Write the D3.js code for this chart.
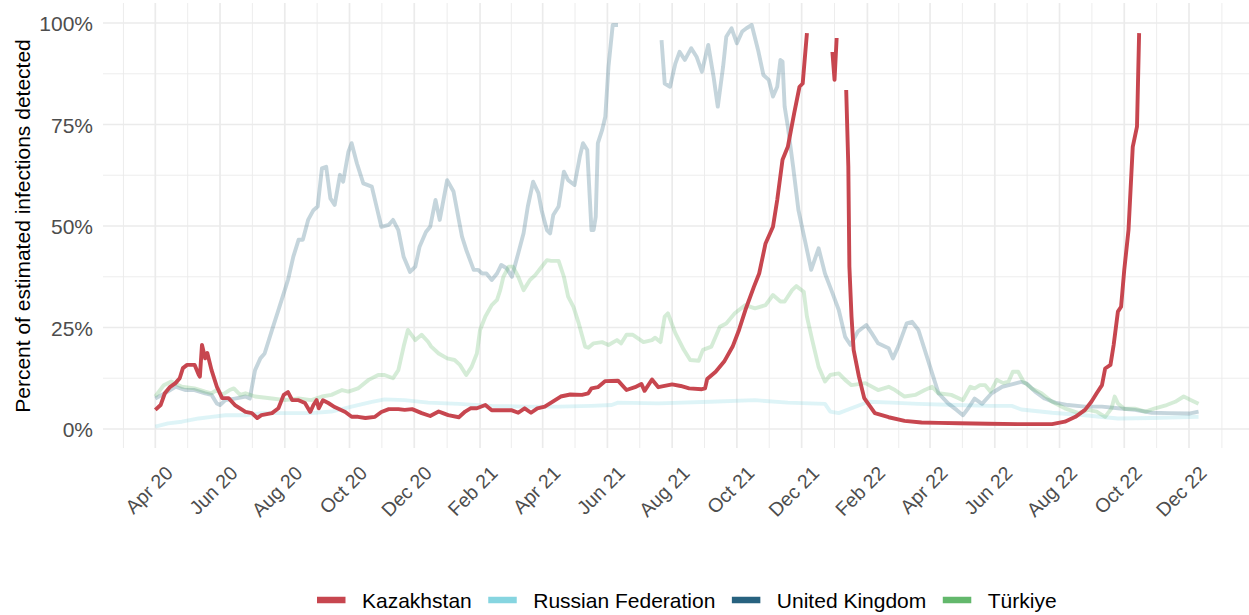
<!DOCTYPE html>
<html>
<head>
<meta charset="utf-8">
<script src="https://cdn.jsdelivr.net/npm/d3@7"></script>
<style>
  html, body { margin: 0; padding: 0; background: #ffffff; }
  svg { display: block; font-family: "Liberation Sans", Arial, Helvetica, sans-serif; }
</style>
</head>
<body>
<svg id="chart" width="1249" height="615"></svg>
<script>
// ---------------- data (percent of estimated infections detected) ----------------
const seriesNames = ["Kazakhstan", "Russian Federation", "United Kingdom", "Türkiye"];
const seriesColors = ["#C7464F", "#86D5E0", "#27627F", "#63B86C"];
const yTicks = [0, 25, 50, 75, 100];
const yTickLabels = ["0%", "25%", "50%", "75%", "100%"];
const xTickLabels = ["Apr 20","Jun 20","Aug 20","Oct 20","Dec 20","Feb 21","Apr 21","Jun 21","Aug 21","Oct 21","Dec 21","Feb 22","Apr 22","Jun 22","Aug 22","Oct 22","Dec 22"];
const xTickDates = ["2020-04-01","2020-06-01","2020-08-01","2020-10-01","2020-12-01","2021-02-01","2021-04-01","2021-06-01","2021-08-01","2021-10-01","2021-12-01","2022-02-01","2022-04-01","2022-06-01","2022-08-01","2022-10-01","2022-12-01"];

// null = value outside 0-100% (dropped, leaves a gap)
const kazakhstan = [["2020-04-01",4.7],["2020-04-06",5.9],["2020-04-10",8.8],["2020-04-15",10.4],["2020-04-20",11.3],["2020-04-24",12.5],["2020-04-27",15.0],["2020-05-01",15.8],["2020-05-08",15.8],["2020-05-12",13.3],["2020-05-13",12.9],["2020-05-15",20.7],["2020-05-18",17.4],["2020-05-20",18.7],["2020-05-24",14.5],["2020-05-29",10.4],["2020-06-03",7.6],["2020-06-09",7.6],["2020-06-15",5.9],["2020-06-25",4.2],["2020-07-01",3.9],["2020-07-06",2.7],["2020-07-10",3.4],["2020-07-20",3.9],["2020-07-26",5.1],["2020-07-31",8.4],["2020-08-04",9.1],["2020-08-08",7.1],["2020-08-14",7.1],["2020-08-20",6.4],["2020-08-25",4.2],["2020-08-28",5.9],["2020-08-31",7.1],["2020-09-02",5.1],["2020-09-06",7.1],["2020-09-11",6.4],["2020-09-17",5.4],["2020-09-27",4.2],["2020-10-03",3.0],["2020-10-09",3.0],["2020-10-16",2.7],["2020-10-25",3.0],["2020-10-31",4.2],["2020-11-07",4.9],["2020-11-16",4.9],["2020-11-22",4.7],["2020-11-29",4.9],["2020-12-08",3.9],["2020-12-16",3.2],["2020-12-24",4.3],["2020-12-28",3.9],["2021-01-02",3.4],["2021-01-12",2.9],["2021-01-18",4.3],["2021-01-23",5.1],["2021-01-29",5.1],["2021-02-06",5.9],["2021-02-12",4.6],["2021-02-21",4.6],["2021-03-03",4.6],["2021-03-09",4.0],["2021-03-15",5.1],["2021-03-21",4.0],["2021-03-27",5.1],["2021-04-03",5.5],["2021-04-09",6.5],["2021-04-18",8.0],["2021-04-27",8.5],["2021-05-08",8.4],["2021-05-14",8.8],["2021-05-17",10.0],["2021-05-23",10.3],["2021-05-30",11.8],["2021-06-11",11.9],["2021-06-19",9.6],["2021-06-27",10.3],["2021-07-03",11.1],["2021-07-06",9.4],["2021-07-13",12.2],["2021-07-19",10.3],["2021-08-01",11.0],["2021-08-09",10.6],["2021-08-17",10.0],["2021-08-29",9.8],["2021-09-01",10.0],["2021-09-03",12.3],["2021-09-11",14.1],["2021-09-19",16.6],["2021-09-27",20.3],["2021-10-03",24.4],["2021-10-09",29.3],["2021-10-17",35.0],["2021-10-22",38.3],["2021-10-28",45.7],["2021-11-04",49.8],["2021-11-08",56.4],["2021-11-13",66.3],["2021-11-18",69.5],["2021-11-24",77.8],["2021-11-29",84.3],["2021-12-02",85.1],["2021-12-06",97.5],["2021-12-07",null],["2021-12-30",92.9],["2022-01-01",86.0],["2022-01-03",96.3],["2022-01-04",null],["2022-01-12",83.5],["2022-01-14",64.6],["2022-01-15",40.0],["2022-01-17",27.7],["2022-01-19",19.5],["2022-01-24",12.9],["2022-01-29",7.6],["2022-02-08",3.9],["2022-02-21",2.9],["2022-03-08",2.0],["2022-03-24",1.6],["2022-04-09",1.5],["2022-04-28",1.4],["2022-05-26",1.3],["2022-06-23",1.2],["2022-07-25",1.2],["2022-08-06",1.8],["2022-08-16",3.0],["2022-08-25",4.7],["2022-08-31",6.7],["2022-09-05",8.8],["2022-09-10",10.8],["2022-09-13",14.9],["2022-09-18",15.8],["2022-09-21",20.7],["2022-09-25",28.9],["2022-09-28",30.1],["2022-10-01",39.2],["2022-10-05",49.0],["2022-10-09",69.5],["2022-10-13",74.5],["2022-10-15",97.5]];

const russianFederation = [["2020-04-01",0.6],["2020-04-13",1.4],["2020-04-26",1.8],["2020-05-12",2.6],["2020-05-24",3.0],["2020-06-06",3.4],["2020-06-25",3.4],["2020-07-10",3.9],["2020-08-01",3.9],["2020-08-26",3.9],["2020-09-14",4.3],["2020-10-03",5.5],["2020-10-22",6.7],["2020-11-03",7.3],["2020-11-22",7.1],["2020-12-14",6.5],["2021-01-12",6.2],["2021-02-12",5.7],["2021-03-15",5.5],["2021-04-16",5.5],["2021-05-17",5.7],["2021-06-05",5.9],["2021-06-11",6.5],["2021-07-19",6.3],["2021-09-06",6.7],["2021-10-18",7.1],["2021-11-18",6.5],["2021-12-23",6.2],["2021-12-28",4.3],["2022-01-05",3.9],["2022-01-17",5.1],["2022-02-02",6.7],["2022-02-24",6.5],["2022-03-21",6.2],["2022-04-25",5.9],["2022-05-28",5.7],["2022-06-17",5.7],["2022-06-26",4.8],["2022-07-25",4.0],["2022-08-25",3.4],["2022-09-25",2.6],["2022-10-27",2.7],["2022-12-10",3.0]];

const unitedKingdom = [["2020-04-01",7.5],["2020-04-10",8.8],["2020-04-20",10.4],["2020-04-29",9.6],["2020-05-08",9.6],["2020-05-18",8.8],["2020-05-24",8.4],["2020-05-29",6.3],["2020-06-01",5.9],["2020-06-06",7.1],["2020-06-15",7.5],["2020-06-25",8.0],["2020-06-29",7.5],["2020-07-04",14.5],["2020-07-09",17.4],["2020-07-13",18.6],["2020-07-20",24.4],["2020-07-26",29.3],["2020-07-31",33.4],["2020-08-04",36.7],["2020-08-09",42.4],["2020-08-14",46.6],["2020-08-18",46.6],["2020-08-23",51.5],["2020-08-28",53.9],["2020-09-01",54.8],["2020-09-05",64.2],["2020-09-09",64.6],["2020-09-13",56.8],["2020-09-17",55.2],["2020-09-22",62.6],["2020-09-25",60.9],["2020-09-30",68.3],["2020-10-03",70.4],["2020-10-08",65.4],["2020-10-14",60.5],["2020-10-22",59.7],["2020-10-28",53.1],["2020-10-31",49.8],["2020-11-07",50.3],["2020-11-11",51.5],["2020-11-16",49.0],["2020-11-21",42.4],["2020-11-27",38.7],["2020-12-02",40.0],["2020-12-06",44.9],["2020-12-12",48.5],["2020-12-16",49.8],["2020-12-21",56.4],["2020-12-25",51.5],["2021-01-01",61.3],["2021-01-07",58.5],["2021-01-12",51.5],["2021-01-15",47.4],["2021-01-19",44.1],["2021-01-26",39.2],["2021-01-30",39.2],["2021-02-03",38.3],["2021-02-07",38.3],["2021-02-12",36.7],["2021-02-17",38.3],["2021-02-21",40.4],["2021-02-26",39.6],["2021-03-03",37.5],["2021-03-09",43.3],["2021-03-14",48.2],["2021-03-18",54.8],["2021-03-23",60.9],["2021-03-28",58.1],["2021-03-31",53.9],["2021-04-05",49.0],["2021-04-08",48.2],["2021-04-11",52.7],["2021-04-16",54.8],["2021-04-21",63.4],["2021-04-25",61.3],["2021-05-01",60.1],["2021-05-06",67.1],["2021-05-09",70.4],["2021-05-13",68.7],["2021-05-17",49.0],["2021-05-19",49.0],["2021-05-21",52.3],["2021-05-23",70.4],["2021-05-27",73.6],["2021-05-30",76.9],["2021-06-02",89.2],["2021-06-06",99.5],["2021-06-11",99.5],["2021-06-12",null],["2021-07-22",95.8],["2021-07-25",85.1],["2021-07-30",84.3],["2021-08-04",90.0],["2021-08-08",92.9],["2021-08-13",90.9],["2021-08-19",93.8],["2021-08-24",91.7],["2021-08-29",88.0],["2021-09-04",94.6],["2021-09-09",86.8],["2021-09-13",79.4],["2021-09-18",89.2],["2021-09-21",96.6],["2021-09-26",98.7],["2021-10-01",95.0],["2021-10-06",97.9],["2021-10-10",98.7],["2021-10-15",99.5],["2021-10-21",93.3],["2021-10-26",87.2],["2021-10-31",86.0],["2021-11-04",81.9],["2021-11-08",84.3],["2021-11-11",90.9],["2021-11-13",90.5],["2021-11-15",79.4],["2021-11-18",74.5],["2021-11-23",64.6],["2021-11-28",53.9],["2021-12-04",46.6],["2021-12-10",39.2],["2021-12-17",44.5],["2021-12-23",38.3],["2021-12-29",34.2],["2022-01-05",29.3],["2022-01-11",22.7],["2022-01-16",20.7],["2022-01-23",24.0],["2022-01-31",25.6],["2022-02-05",23.6],["2022-02-11",21.1],["2022-02-21",19.9],["2022-02-25",17.4],["2022-03-02",20.3],["2022-03-10",26.0],["2022-03-15",26.4],["2022-03-21",24.4],["2022-03-27",19.5],["2022-04-03",13.7],["2022-04-09",8.8],["2022-04-18",6.3],["2022-04-26",4.7],["2022-05-02",3.4],["2022-05-07",5.1],["2022-05-13",7.5],["2022-05-20",6.2],["2022-05-29",8.8],["2022-06-08",10.4],["2022-06-17",11.0],["2022-06-26",11.6],["2022-07-01",11.2],["2022-07-09",9.2],["2022-07-18",7.5],["2022-07-28",6.5],["2022-08-09",5.9],["2022-08-25",5.5],["2022-09-10",5.5],["2022-09-25",5.1],["2022-10-11",4.7],["2022-10-27",4.0],["2022-11-12",3.9],["2022-12-01",3.8],["2022-12-10",4.3]];

const turkiye = [["2020-04-01",8.0],["2020-04-09",10.8],["2020-04-16",11.7],["2020-04-26",10.4],["2020-05-08",10.0],["2020-05-18",9.2],["2020-05-24",8.8],["2020-05-29",9.6],["2020-06-03",8.4],["2020-06-10",9.6],["2020-06-14",10.0],["2020-06-20",8.4],["2020-06-25",8.8],["2020-07-04",8.0],["2020-07-20",7.5],["2020-08-01",7.1],["2020-08-14",7.5],["2020-08-26",7.1],["2020-09-05",8.0],["2020-09-14",8.4],["2020-09-24",9.6],["2020-09-30",9.2],["2020-10-09",10.0],["2020-10-19",12.1],["2020-10-28",13.3],["2020-11-03",13.3],["2020-11-11",12.5],["2020-11-16",14.5],["2020-11-21",20.3],["2020-11-25",24.4],["2020-12-02",21.9],["2020-12-08",23.2],["2020-12-14",21.5],["2020-12-17",20.3],["2020-12-24",18.6],["2021-01-01",17.4],["2021-01-08",17.0],["2021-01-13",15.8],["2021-01-19",13.3],["2021-01-24",15.3],["2021-01-29",18.6],["2021-02-01",24.4],["2021-02-06",27.7],["2021-02-12",30.5],["2021-02-17",31.8],["2021-02-20",34.2],["2021-02-23",37.5],["2021-02-28",40.0],["2021-03-04",40.0],["2021-03-09",37.5],["2021-03-14",34.2],["2021-03-20",36.7],["2021-03-25",37.9],["2021-03-30",39.6],["2021-04-05",41.6],["2021-04-09",41.4],["2021-04-16",41.4],["2021-04-21",37.5],["2021-04-25",32.6],["2021-04-30",30.1],["2021-05-05",26.0],["2021-05-11",20.3],["2021-05-14",20.0],["2021-05-19",21.1],["2021-05-27",21.4],["2021-06-02",20.7],["2021-06-10",21.9],["2021-06-14",21.1],["2021-06-19",23.2],["2021-06-25",23.2],["2021-07-05",21.4],["2021-07-13",21.9],["2021-07-16",22.5],["2021-07-21",21.4],["2021-07-25",27.7],["2021-07-28",28.5],["2021-08-04",23.6],["2021-08-12",19.5],["2021-08-18",17.0],["2021-08-26",16.8],["2021-08-30",19.5],["2021-09-07",20.3],["2021-09-15",25.2],["2021-09-21",26.0],["2021-09-29",28.5],["2021-10-09",30.5],["2021-10-18",29.7],["2021-10-28",30.5],["2021-11-04",33.0],["2021-11-11",31.4],["2021-11-15",31.4],["2021-11-22",34.2],["2021-11-26",35.2],["2021-12-03",33.8],["2021-12-06",27.7],["2021-12-11",21.9],["2021-12-17",15.3],["2021-12-23",11.7],["2021-12-28",13.3],["2022-01-05",13.7],["2022-01-11",12.1],["2022-01-17",10.8],["2022-01-30",11.3],["2022-02-11",9.6],["2022-02-21",10.4],["2022-02-27",9.6],["2022-03-08",8.0],["2022-03-18",8.4],["2022-03-27",9.6],["2022-04-03",10.4],["2022-04-09",8.8],["2022-04-21",8.4],["2022-05-02",7.1],["2022-05-09",10.4],["2022-05-13",10.0],["2022-05-18",10.8],["2022-05-23",10.8],["2022-05-28",9.2],["2022-06-03",12.1],["2022-06-09",11.3],["2022-06-14",11.7],["2022-06-18",14.1],["2022-06-23",14.1],["2022-06-28",11.7],["2022-07-06",10.0],["2022-07-15",8.8],["2022-07-25",6.7],["2022-08-06",5.1],["2022-08-19",3.9],["2022-08-28",4.7],["2022-09-05",4.3],["2022-09-13",3.0],["2022-09-19",5.1],["2022-09-22",8.0],["2022-09-25",6.3],["2022-10-01",5.0],["2022-10-11",5.0],["2022-10-21",4.3],["2022-10-30",5.1],["2022-11-10",5.9],["2022-11-18",6.7],["2022-11-26",8.0],["2022-12-03",7.1],["2022-12-10",6.2]];

// ---------------- layout ----------------
const parse = d3.utcParse("%Y-%m-%d");
const svg = d3.select("#chart");
const panel = { left: 103, right: 1249, top: 3, bottom: 448 };

const x = d3.scaleUtc()
  .domain([parse("2020-04-01"), parse("2022-12-01")])
  .range([155.3, 1189]);
const y = d3.scaleLinear().domain([0, 100]).range([429, 23]);

// ---------------- grid ----------------
const grid = svg.append("g");
const majorDates = xTickDates.map(parse);
// minor breaks: midpoints between major breaks (incl. one beyond each end)
const extMajor = [d3.utcMonth.offset(majorDates[0], -2), ...majorDates, d3.utcMonth.offset(majorDates[majorDates.length-1], 2)];
const minorDates = [];
for (let i = 0; i < extMajor.length - 1; i++) {
  minorDates.push(new Date((extMajor[i].getTime() + extMajor[i+1].getTime()) / 2));
}
const yMinor = [12.5, 37.5, 62.5, 87.5];

grid.selectAll("line.ymin").data(yMinor).join("line")
  .attr("x1", panel.left).attr("x2", panel.right)
  .attr("y1", d => y(d)).attr("y2", d => y(d))
  .attr("stroke", "#EBEBEB").attr("stroke-width", 0.9);
grid.selectAll("line.xmin").data(minorDates.filter(d => x(d) > panel.left && x(d) < panel.right)).join("line")
  .attr("x1", d => x(d)).attr("x2", d => x(d))
  .attr("y1", panel.top).attr("y2", panel.bottom)
  .attr("stroke", "#EBEBEB").attr("stroke-width", 0.9);
grid.selectAll("line.ymaj").data(yTicks).join("line")
  .attr("x1", panel.left).attr("x2", panel.right)
  .attr("y1", d => y(d)).attr("y2", d => y(d))
  .attr("stroke", "#EBEBEB").attr("stroke-width", 1.7);
grid.selectAll("line.xmaj").data(majorDates).join("line")
  .attr("x1", d => x(d)).attr("x2", d => x(d))
  .attr("y1", panel.top).attr("y2", panel.bottom)
  .attr("stroke", "#EBEBEB").attr("stroke-width", 1.7);

// ---------------- axes text ----------------
const yAxis = d3.axisLeft(y).tickValues(yTicks).tickSize(0).tickPadding(0)
  .tickFormat((d, i) => yTickLabels[i]);
const gy = svg.append("g").attr("transform", `translate(93,0)`).call(yAxis);
gy.select(".domain").remove();
gy.selectAll("text").attr("font-size", 21).attr("fill", "#4D4D4D")
  .attr("font-family", '"Liberation Sans", Arial, sans-serif').attr("dy", "0.36em");

const xAxis = d3.axisBottom(x).tickValues(majorDates).tickSize(0)
  .tickFormat((d, i) => xTickLabels[i]);
const gx = svg.append("g").attr("transform", `translate(0,456)`).call(xAxis);
gx.select(".domain").remove();
gx.selectAll(".tick text")
  .attr("font-size", 19.5).attr("fill", "#4D4D4D")
  .attr("font-family", '"Liberation Sans", Arial, sans-serif')
  .attr("text-anchor", "end")
  .attr("x", 0).attr("y", 26).attr("dy", 0)
  .attr("transform", "rotate(-45)");

svg.append("text")
  .attr("transform", "translate(30,226) rotate(-90)")
  .attr("text-anchor", "middle")
  .attr("font-size", 21).attr("fill", "#000")
  .text("Percent of estimated infections detected");

// ---------------- lines ----------------
svg.append("defs").append("clipPath").attr("id", "panelClip")
  .append("rect").attr("x", panel.left).attr("y", panel.top)
  .attr("width", panel.right - panel.left).attr("height", panel.bottom - panel.top);

const line = d3.line()
  .defined(d => d[1] !== null && d[1] >= 0 && d[1] <= 100)
  .x(d => x(parse(d[0])))
  .y(d => y(d[1]));

const seriesData = [kazakhstan, russianFederation, unitedKingdom, turkiye];
const drawOrder = [1, 2, 3, 0];
const opac = [1, 0.27, 0.27, 0.27];
const lg = svg.append("g").attr("clip-path", "url(#panelClip)");
drawOrder.forEach(i => {
  lg.append("path")
    .datum(seriesData[i])
    .attr("d", line)
    .attr("fill", "none")
    .attr("stroke", seriesColors[i])
    .attr("stroke-opacity", opac[i])
    .attr("stroke-width", 3.9)
    .attr("stroke-linejoin", "round")
    .attr("stroke-linecap", "butt");
});

// ---------------- legend ----------------
const legend = svg.append("g");
let lx = 317;
const ly = 600;
seriesNames.forEach((name, i) => {
  legend.append("line")
    .attr("x1", lx).attr("x2", lx + 28.5)
    .attr("y1", ly).attr("y2", ly)
    .attr("stroke", seriesColors[i]).attr("stroke-width", 6.5);
  const t = legend.append("text")
    .attr("x", lx + 45).attr("y", ly).attr("dy", "0.36em")
    .attr("font-size", 21).attr("fill", "#000")
    .text(name);
  const w = t.node().getComputedTextLength();
  lx = lx + 45 + w + 16.5;
});
</script>
</body>
</html>
